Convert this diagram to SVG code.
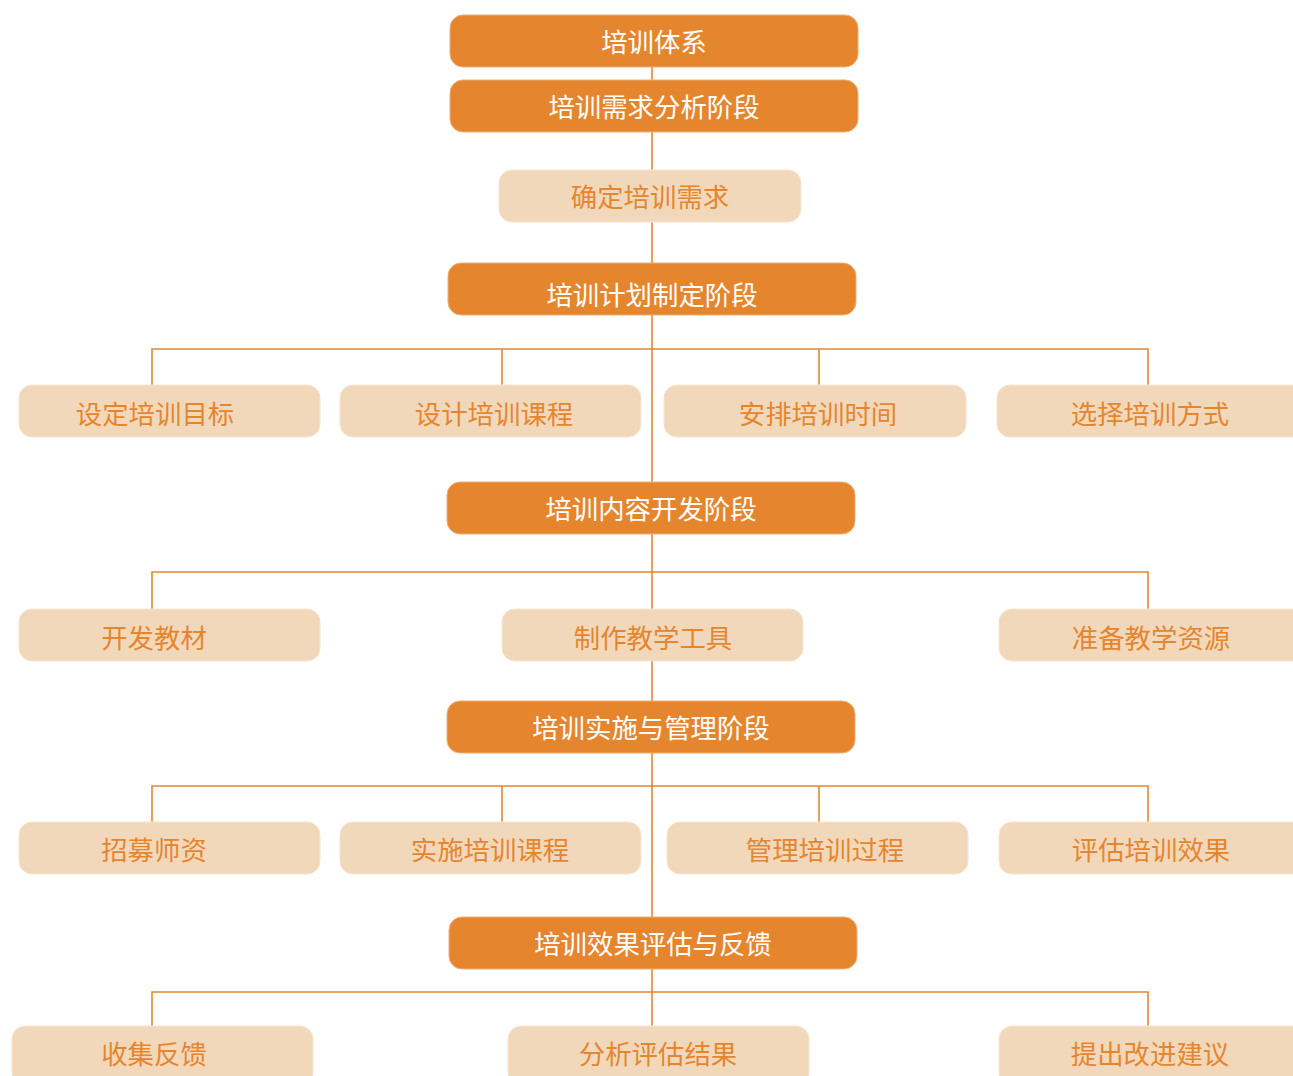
<svg xmlns="http://www.w3.org/2000/svg" width="1293" height="1076" viewBox="0 0 1293 1076">
<style>
.d{fill:#E5862F;stroke:#EFAF78;stroke-width:1}
.l{fill:#F2D8BA;stroke:#F6E4D0;stroke-width:1}
.dt{fill:#FFFFFF;font-family:"Noto Sans CJK SC","Noto Sans CJK JP",sans-serif;font-size:26.4px;text-anchor:middle;dominant-baseline:central}
.lt{fill:#E5862F;font-family:"Noto Sans CJK SC","Noto Sans CJK JP",sans-serif;font-size:26.4px;text-anchor:middle;dominant-baseline:central}
.c{stroke:#E5862F;stroke-width:1.6;fill:none}
</style>
<rect width="1293" height="1076" fill="#FFFFFF"/>
<g id="connectors">
<path class="c" d="M652 67V1026"/>
<path class="c" d="M152 385V349H1148V385M502 349V385M819 349V385"/>
<path class="c" d="M152 609V572H1148V609"/>
<path class="c" d="M152 822V786H1148V822M502 786V822M819 786V822"/>
<path class="c" d="M152 1026V992H1148V1026"/>
</g>
<g id="n0"><rect class="d" x="450" y="15" width="408" height="52" rx="13"/><text class="dt" x="654" y="40">培训体系</text></g>
<g id="n1"><rect class="d" x="450" y="80" width="408" height="52" rx="13"/><text class="dt" x="654" y="105">培训需求分析阶段</text></g>
<g id="n1a"><rect class="l" x="499" y="170" width="302" height="52" rx="13"/><text class="lt" x="650" y="195">确定培训需求</text></g>
<g id="n2"><rect class="d" x="448" y="263" width="408" height="52" rx="13"/><text class="dt" x="652" y="293">培训计划制定阶段</text></g>
<g id="n2a"><rect class="l" x="19" y="385" width="301" height="52" rx="13"/><text class="lt" x="155" y="412">设定培训目标</text></g>
<g id="n2b"><rect class="l" x="340" y="385" width="301" height="52" rx="13"/><text class="lt" x="494" y="412">设计培训课程</text></g>
<g id="n2c"><rect class="l" x="664" y="385" width="302" height="52" rx="13"/><text class="lt" x="818" y="412">安排培训时间</text></g>
<g id="n2d"><rect class="l" x="997" y="385" width="310" height="52" rx="13"/><text class="lt" x="1150" y="412">选择培训方式</text></g>
<g id="n3"><rect class="d" x="447" y="482" width="408" height="52" rx="13"/><text class="dt" x="651" y="507">培训内容开发阶段</text></g>
<g id="n3a"><rect class="l" x="19" y="609" width="301" height="52" rx="13"/><text class="lt" x="154" y="636">开发教材</text></g>
<g id="n3b"><rect class="l" x="502" y="609" width="301" height="52" rx="13"/><text class="lt" x="653" y="636">制作教学工具</text></g>
<g id="n3c"><rect class="l" x="999" y="609" width="310" height="52" rx="13"/><text class="lt" x="1151" y="636">准备教学资源</text></g>
<g id="n4"><rect class="d" x="447" y="701" width="408" height="52" rx="13"/><text class="dt" x="651" y="726">培训实施与管理阶段</text></g>
<g id="n4a"><rect class="l" x="19" y="822" width="301" height="52" rx="13"/><text class="lt" x="154" y="848">招募师资</text></g>
<g id="n4b"><rect class="l" x="340" y="822" width="301" height="52" rx="13"/><text class="lt" x="490" y="848">实施培训课程</text></g>
<g id="n4c"><rect class="l" x="667" y="822" width="301" height="52" rx="13"/><text class="lt" x="825" y="848">管理培训过程</text></g>
<g id="n4d"><rect class="l" x="999" y="822" width="310" height="52" rx="13"/><text class="lt" x="1151" y="848">评估培训效果</text></g>
<g id="n5"><rect class="d" x="449" y="917" width="408" height="52" rx="13"/><text class="dt" x="653" y="942">培训效果评估与反馈</text></g>
<g id="n5a"><rect class="l" x="12" y="1026" width="301" height="60" rx="13"/><text class="lt" x="154" y="1052">收集反馈</text></g>
<g id="n5b"><rect class="l" x="508" y="1026" width="301" height="60" rx="13"/><text class="lt" x="658" y="1052">分析评估结果</text></g>
<g id="n5c"><rect class="l" x="999" y="1026" width="310" height="60" rx="13"/><text class="lt" x="1150" y="1052">提出改进建议</text></g>
</svg>
